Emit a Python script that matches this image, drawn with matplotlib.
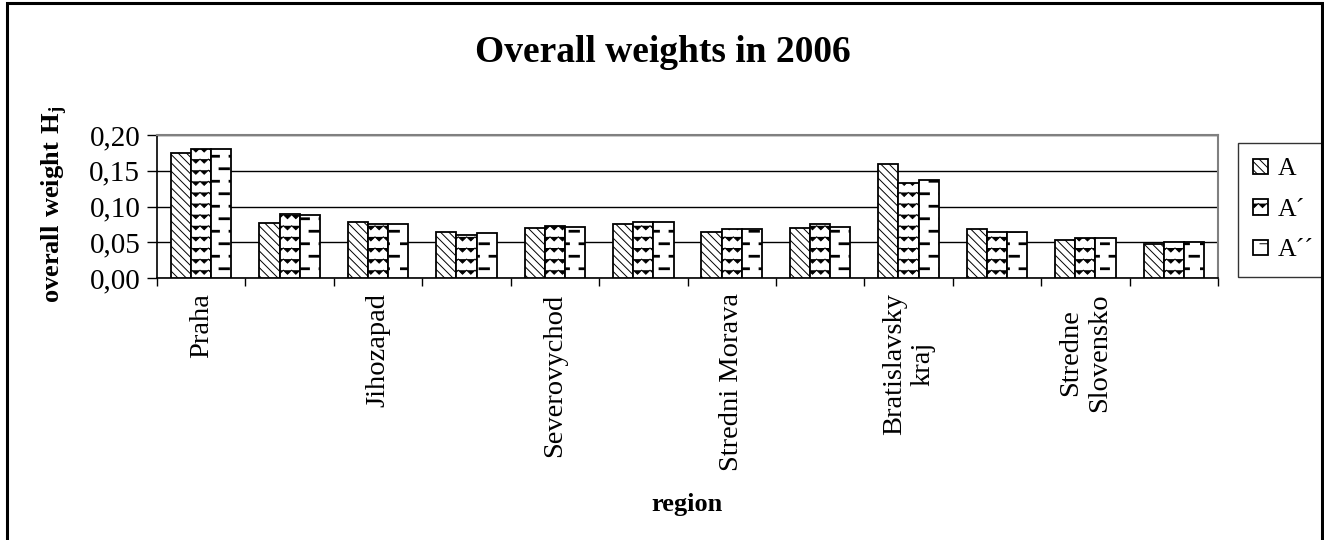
import warnings
import numpy as np
import matplotlib
matplotlib.use("Agg")
import matplotlib.pyplot as plt
import matplotlib.hatch as mhatch
from matplotlib.path import Path
from matplotlib.patches import Rectangle

warnings.filterwarnings("ignore")

# data
regions = ["Praha", "Stredni Cechy", "Jihozapad", "Severozapad", "Severovychod",
           "Jihovychod", "Stredni Morava", "Moravskoslezsko", "Bratislavsky kraj",
           "Zapadne Slovensko", "Stredne Slovensko", "Vychodne Slovensko"]
tick_labels = ["Praha", "", "Jihozapad", "", "Severovychod", "", "Stredni Morava", "",
               "Bratislavsky\nkraj", "", "Stredne\nSlovensko", ""]
series_names = ["A", "A\u00b4", "A\u00b4\u00b4"]
w_A = [0.175, 0.077, 0.078, 0.065, 0.070, 0.075, 0.065, 0.070, 0.160, 0.068, 0.053, 0.048]
w_A1 = [0.180, 0.090, 0.076, 0.060, 0.073, 0.078, 0.068, 0.075, 0.133, 0.065, 0.056, 0.050]
w_A2 = [0.180, 0.088, 0.075, 0.063, 0.072, 0.078, 0.068, 0.072, 0.137, 0.065, 0.056, 0.050]
y_ticks = [0.00, 0.05, 0.10, 0.15, 0.20]


# extra hatch patterns like the old Excel fills
class ZigzagHatch(mhatch.HatchPatternBase):
    def __init__(self, hatch, density):
        self.rows = 9 if "z" in hatch else 0
        self.teeth = 12
        self.n = 2 * self.teeth + 1
        self.num_vertices = self.rows * self.n

    def set_vertices_and_codes(self, vertices, codes):
        xs = np.linspace(0.0, 1.0, self.n)
        amp = 0.04
        for r in range(self.rows):
            y0 = (r + 0.5) / self.rows
            ys = y0 + np.where(np.arange(self.n) % 2 == 0, amp / 2, -amp / 2)
            vertices[r * self.n:(r + 1) * self.n, 0] = xs
            vertices[r * self.n:(r + 1) * self.n, 1] = ys
            codes[r * self.n] = Path.MOVETO
            codes[r * self.n + 1:(r + 1) * self.n] = Path.LINETO


class DashHatch(mhatch.HatchPatternBase):
    def __init__(self, hatch, density):
        self.rows = 8 if "d" in hatch else 0
        self.per_row = 5
        self.num_vertices = self.rows * self.per_row * 2

    def set_vertices_and_codes(self, vertices, codes):
        period = 1.0 / self.per_row
        length = 0.085
        i = 0
        for r in range(self.rows):
            y = (r + 0.5) / self.rows
            shift = 0.5 * period * (r % 2)
            for k in range(self.per_row):
                x0 = k * period + shift
                vertices[i] = (x0, y)
                vertices[i + 1] = (x0 + length, y)
                codes[i] = Path.MOVETO
                codes[i + 1] = Path.LINETO
                i += 2


mhatch._hatch_types.extend([ZigzagHatch, DashHatch])

plt.rcParams["font.family"] = ["Liberation Serif", "DejaVu Serif"]
plt.rcParams["mathtext.fontset"] = "custom"
plt.rcParams["mathtext.bf"] = "Liberation Serif:bold"
plt.rcParams["mathtext.rm"] = "Liberation Serif"
plt.rcParams["hatch.linewidth"] = 0.7
plt.rcParams["hatch.color"] = "black"

fig = plt.figure(figsize=(13.24, 5.40), dpi=100)
ax = fig.add_axes([157 / 1324, 1 - 278 / 540, (1218 - 157) / 1324, (278 - 135) / 540])

x = np.arange(len(regions))
bw = 0.228
hatches = ["\\\\\\\\", "z", "d"]
for k, (vals, name) in enumerate(zip([w_A, w_A1, w_A2], series_names)):
    bars = ax.bar(x + (k - 1) * bw, vals, bw, color="white", edgecolor="black",
                  linewidth=1.3, hatch=hatches[k], label=name, zorder=3)
    if k == 2:
        for b in bars:
            if hasattr(b, "set_hatch_linewidth"):
                b.set_hatch_linewidth(2.0)

ax.set_xlim(-0.5, len(regions) - 0.5)
ax.set_ylim(0, 0.20)
ax.set_yticks(y_ticks)
ax.set_yticklabels([f"{v:.2f}".replace(".", ",") for v in y_ticks], fontsize=21)
ax.yaxis.grid(True, color="black", linewidth=1.0, zorder=0)
ax.set_axisbelow(True)

ax.set_xticks(x)
ax.set_xticklabels(tick_labels, rotation=90, fontsize=20.5, ha="center", va="top",
                   multialignment="center")
ax.set_xticks(np.arange(len(regions) + 1) - 0.5, minor=True)
ax.tick_params(axis="x", which="major", length=0, pad=11)
ax.tick_params(axis="x", which="minor", length=6, width=1, direction="out")
ax.tick_params(axis="y", length=7, width=1, direction="out", pad=5)

for s in ["left", "bottom"]:
    ax.spines[s].set_color("black")
    ax.spines[s].set_linewidth(1.2)
for s in ["top", "right"]:
    ax.spines[s].set_color("#808080")
    ax.spines[s].set_linewidth(1.5)

ax.set_ylabel(r"$\mathbf{overall\ weight\ H_j}$", fontsize=19)
ax.yaxis.set_label_coords(-0.082, 0.517)

fig.text(663 / 1324, 1 - 52 / 540, "Overall weights in 2006", fontsize=27,
         fontweight="bold", ha="center", va="center")
fig.text(687 / 1324, 1 - 505 / 540, "region", fontsize=19, fontweight="bold",
         ha="center", va="center")

leg = ax.legend(loc="upper left", bbox_to_anchor=(1238 / 1324, 1 - 143 / 540),
                bbox_transform=fig.transFigure, fontsize=18.5, frameon=True,
                fancybox=False, shadow=False, borderaxespad=0, borderpad=0.6,
                handlelength=0.55, handleheight=0.55, handletextpad=0.4,
                labelspacing=0.72)
leg.get_frame().set_edgecolor("black")
leg.get_frame().set_linewidth(1.0)

fig.patches.append(Rectangle((7 / 1324, -0.1), (1322 - 7) / 1324, 1.1 - 3 / 540,
                             transform=fig.transFigure, fill=False,
                             edgecolor="black", linewidth=2.2))

fig.savefig("out.png", dpi=100)
